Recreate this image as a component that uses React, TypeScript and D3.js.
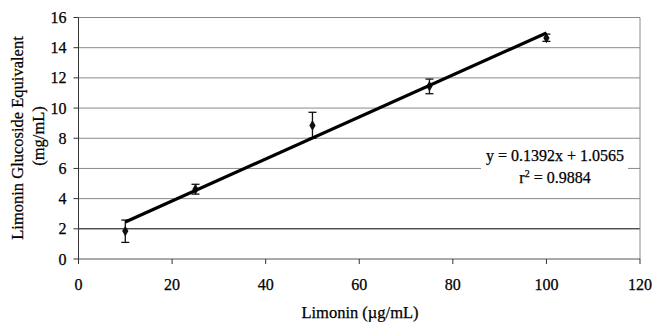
import React from "react";
import * as d3 from "d3";

const xValues = [10, 25, 50, 75, 100];
const yValues = [1.85, 4.62, 8.85, 11.45, 14.65];
const errLow = [1.1, 4.3, 8.0, 10.95, 14.42];
const errHigh = [2.58, 4.95, 9.72, 11.92, 14.9];
const slope = 0.1392;
const intercept = 1.0565;
const xTicks = [0, 20, 40, 60, 80, 100, 120];
const yTicks = [0, 2, 4, 6, 8, 10, 12, 14, 16];
const eqLine1 = "y = 0.1392x + 1.0565";
const eqLine2 = "= 0.9884";

const W = 655, H = 322;
const left = 78.5, right = 640, top = 17.5, bottom = 259;
const font = "'Liberation Serif', 'Times New Roman', serif";
const textStyle = { stroke: "#000", strokeWidth: 0.25 };

export default function App() {
  const x = d3.scaleLinear().domain([0, 120]).range([left, right]);
  const y = d3.scaleLinear().domain([0, 16]).range([bottom, top]);
  const line = d3.line<number>().x((d) => x(d)).y((d) => y(slope * d + intercept));
  const fitX = [d3.min(xValues)!, d3.max(xValues)!];
  const diamond = d3.symbol(d3.symbolDiamond, 34)()!;

  return (
    <svg width={W} height={H} style={{ position: "absolute", left: 0, top: 0, background: "#fff" }}>
      <rect x={0} y={0} width={W} height={H} fill="#fff" />
      {yTicks.filter((t) => t > 0).map((t) => (
        <line key={t} x1={left} x2={right} y1={y(t)} y2={y(t)} stroke={t === 2 ? "#000" : "#8a8a8a"} strokeWidth={1} />
      ))}
      <line x1={right} x2={right} y1={top} y2={bottom} stroke="#8a8a8a" strokeWidth={1} />
      <line x1={left} x2={left} y1={top} y2={bottom} stroke="#333" strokeWidth={1} />
      <line x1={left} x2={right} y1={bottom} y2={bottom} stroke="#555" strokeWidth={1} />
      {yTicks.map((t) => (
        <g key={t}>
          <line x1={left - 5} x2={left} y1={y(t)} y2={y(t)} stroke="#333" />
          <text x={66.5} y={y(t) + 5.5} textAnchor="end" fontFamily={font} fontSize={16} fill="#000" style={textStyle}>{t}</text>
        </g>
      ))}
      {xTicks.map((t) => (
        <g key={t}>
          <line x1={x(t)} x2={x(t)} y1={bottom} y2={bottom + 5} stroke="#333" />
          <text x={x(t)} y={290} textAnchor="middle" fontFamily={font} fontSize={16} fill="#000" style={textStyle}>{t}</text>
        </g>
      ))}
      {xValues.map((xv, i) => (
        <g key={"e" + xv} stroke="#111" strokeWidth={1.3}>
          <line x1={x(xv)} x2={x(xv)} y1={y(errLow[i])} y2={y(errHigh[i])} />
          <line x1={x(xv) - 4} x2={x(xv) + 4} y1={y(errLow[i])} y2={y(errLow[i])} />
          <line x1={x(xv) - 4} x2={x(xv) + 4} y1={y(errHigh[i])} y2={y(errHigh[i])} />
        </g>
      ))}
      {xValues.map((xv, i) => (
        <path key={"m" + xv} d={diamond} transform={`translate(${x(xv)},${y(yValues[i])})`} fill="#111" />
      ))}
      <path d={line(fitX)!} stroke="#000" strokeWidth={3.2} fill="none" />
      <rect x={481} y={146} width={147} height={42} fill="#fff" />
      <text x={555} y={161} textAnchor="middle" fontFamily={font} fontSize={16} fill="#000" style={textStyle}>{eqLine1}</text>
      <text x={555} y={183} textAnchor="middle" fontFamily={font} fontSize={16} fill="#000" style={textStyle}>
        r<tspan dy={-6} fontSize={10}>2</tspan><tspan dy={6}> {eqLine2}</tspan>
      </text>
      <text transform="translate(23,138) rotate(-90)" textAnchor="middle" fontFamily={font} fontSize={16.5} fill="#000" style={textStyle}>Limonin Glucoside Equivalent</text>
      <text transform="translate(44,136) rotate(-90)" textAnchor="middle" fontFamily={font} fontSize={16.5} fill="#000" style={textStyle}>(mg/mL)</text>
      <text x={360} y={318} textAnchor="middle" fontFamily={font} fontSize={16.5} fill="#000" style={textStyle}>Limonin (µg/mL)</text>
    </svg>
  );
}
